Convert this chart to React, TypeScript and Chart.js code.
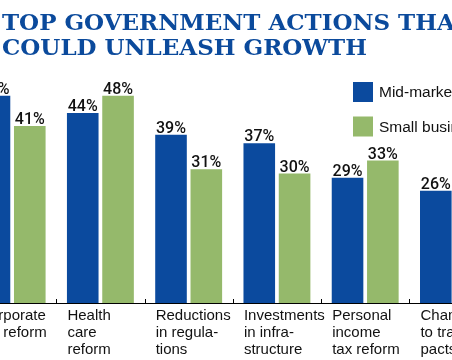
import React, { useEffect, useRef } from "react";
import { Chart, registerables } from "chart.js";

Chart.register(...registerables);

const titleLines = ["TOP GOVERNMENT ACTIONS THAT", "COULD UNLEASH GROWTH"];
const categories: string[][] = [
  ["Corporate", "tax reform"],
  ["Health", "care", "reform"],
  ["Reductions", "in regula-", "tions"],
  ["Investments", "in infra-", "structure"],
  ["Personal", "income", "tax reform"],
  ["Changes", "to trade", "pacts"],
];
const seriesNames = ["Mid-market companies", "Small businesses"];
const midMarket = [48, 44, 39, 37, 29, 26];
const smallBusiness = [41, 48, 31, 30, 33, 24];

const BLUE = "#0b4a9e";
const GREEN = "#95b96b";
const FONT = "'Liberation Sans', Arial, sans-serif";

const valueLabels = {
  id: "valueLabels",
  afterDatasetsDraw(chart: any) {
    const ctx = chart.ctx;
    ctx.save();
    ctx.font = `500 16px Roboto, ${FONT}`;
    ctx.fillStyle = "#111";
    ctx.textAlign = "center";
    ctx.textBaseline = "alphabetic";
    chart.data.datasets.forEach((ds: any, di: number) => {
      const meta = chart.getDatasetMeta(di);
      meta.data.forEach((bar: any, i: number) => {
        ctx.fillText(`${ds.data[i]}%`, bar.x, bar.y - 2);
      });
    });
    ctx.restore();
  },
};

const boundaryTicks = {
  id: "boundaryTicks",
  afterDraw(chart: any) {
    const sx = chart.scales.x;
    const n = chart.data.labels.length;
    const step = sx.getPixelForValue(1) - sx.getPixelForValue(0);
    const y = chart.chartArea.bottom;
    const ctx = chart.ctx;
    ctx.save();
    ctx.strokeStyle = "#000";
    ctx.lineWidth = 1;
    for (let i = 0; i <= n; i++) {
      const x = Math.round(sx.getPixelForValue(0) - step / 2 + i * step) + 0.5;
      ctx.beginPath();
      ctx.moveTo(x, y);
      ctx.lineTo(x, y - 4);
      ctx.stroke();
    }
    ctx.restore();
  },
};

const customLegend = {
  id: "customLegend",
  afterDraw(chart: any) {
    const ctx = chart.ctx;
    const opts = chart.options.plugins.customLegend;
    ctx.save();
    ctx.font = `15.5px ${FONT}`;
    ctx.textBaseline = "middle";
    ctx.textAlign = "left";
    chart.data.datasets.forEach((ds: any, i: number) => {
      const y = opts.top + i * opts.gap;
      ctx.fillStyle = ds.backgroundColor;
      ctx.fillRect(opts.left, y, opts.box, opts.box);
      ctx.fillStyle = "#111";
      ctx.fillText(ds.label, opts.left + opts.box + 6, y + opts.box / 2 + 1);
    });
    ctx.restore();
  },
};

export default function App() {
  const ref = useRef<HTMLCanvasElement>(null);
  useEffect(() => {
    if (!ref.current) return;
    const chart = new Chart(ref.current, {
      type: "bar",
      data: {
        labels: categories,
        datasets: [
          { label: seriesNames[0], data: midMarket, backgroundColor: BLUE },
          { label: seriesNames[1], data: smallBusiness, backgroundColor: GREEN },
        ],
      },
      options: {
        responsive: false,
        animation: false,
        devicePixelRatio: 1,
        layout: { padding: { left: 8, right: 18, top: 44, bottom: 0 } },
        datasets: { bar: { categoryPercentage: 0.8, barPercentage: 0.895 } },
        plugins: {
          legend: { display: false },
          title: { display: false },
          tooltip: { enabled: false },
          customLegend: { left: 393, top: 82, gap: 34.5, box: 20 },
        } as any,
        scales: {
          x: {
            grid: { display: false, drawTicks: false },
            border: { display: true, color: "#000", width: 1 },
            ticks: {
              font: { family: FONT, size: 15, lineHeight: 1.11 },
              color: "#111",
              align: "start",
              labelOffset: -33,
              padding: 5,
              maxRotation: 0,
              autoSkip: false,
            },
            afterFit(scale: any) {
              scale.height = 57;
            },
          },
          y: { display: false, min: 0, max: 60 },
        },
      },
      plugins: [valueLabels, boundaryTicks, customLegend],
    });
    return () => chart.destroy();
  }, []);

  return (
    <div
      style={{
        position: "fixed",
        left: 0,
        top: 0,
        width: 452,
        height: 360,
        overflow: "hidden",
        background: "#fff",
      }}
    >
      <canvas
        ref={ref}
        width={560}
        height={360}
        style={{ position: "absolute", left: -40, top: 0, width: 560, height: 360 }}
      />
      <div
        style={{
          position: "absolute",
          left: 2,
          top: 9,
          fontFamily: "'DejaVu Serif', serif",
          fontWeight: "bold",
          fontSize: 23,
          lineHeight: "25px",
          color: "#0b4a9c",
          whiteSpace: "nowrap",
        }}
      >
        {titleLines.map((t, i) => (
          <div key={i}>{t}</div>
        ))}
      </div>
    </div>
  );
}
